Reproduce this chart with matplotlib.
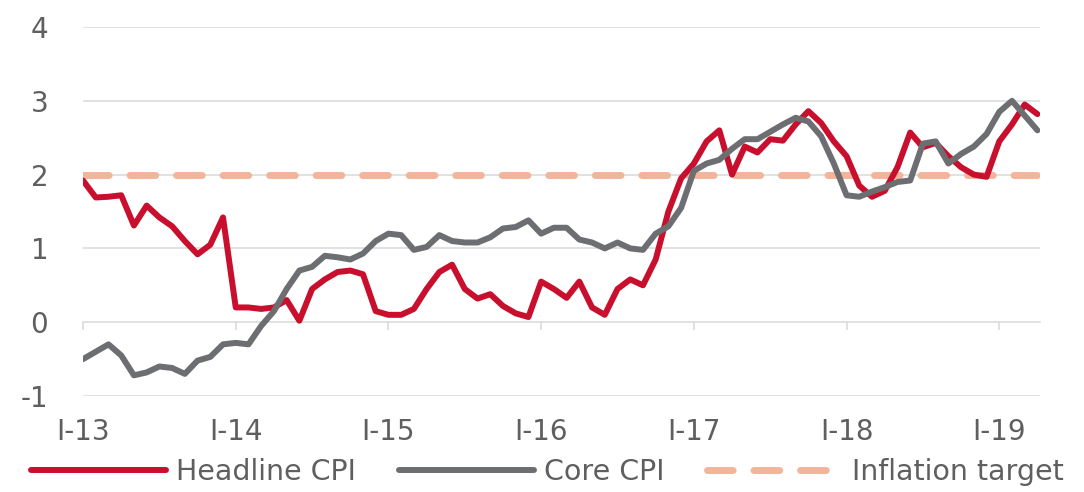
import matplotlib
matplotlib.use("Agg")
from matplotlib import pyplot as plt

# monthly series, January 2013 to April 2019
months = list(range(76))
headline_cpi = [
    1.92, 1.69, 1.70, 1.72, 1.31, 1.58, 1.42, 1.30, 1.10, 0.92, 1.05, 1.42,
    0.20, 0.20, 0.18, 0.20, 0.30, 0.02, 0.45, 0.58, 0.68, 0.70, 0.65, 0.15,
    0.10, 0.10, 0.18, 0.45, 0.68, 0.78, 0.45, 0.32, 0.38, 0.22, 0.12, 0.07,
    0.55, 0.45, 0.33, 0.55, 0.20, 0.10, 0.45, 0.58, 0.50, 0.85, 1.50, 1.95,
    2.15, 2.45, 2.60, 2.00, 2.38, 2.30, 2.48, 2.46, 2.68, 2.86, 2.70, 2.45,
    2.25, 1.85, 1.70, 1.78, 2.10, 2.57, 2.37, 2.43, 2.25, 2.10, 2.00, 1.97,
    2.45, 2.68, 2.95, 2.82,
]
core_cpi = [
    -0.50, -0.40, -0.30, -0.45, -0.72, -0.68, -0.60, -0.62, -0.70, -0.52, -0.47, -0.30,
    -0.28, -0.30, -0.05, 0.15, 0.45, 0.70, 0.75, 0.90, 0.88, 0.85, 0.93, 1.10,
    1.20, 1.18, 0.98, 1.02, 1.18, 1.10, 1.08, 1.08, 1.15, 1.27, 1.29, 1.38,
    1.20, 1.28, 1.28, 1.12, 1.08, 1.00, 1.08, 1.00, 0.98, 1.20, 1.30, 1.55,
    2.05, 2.15, 2.20, 2.35, 2.48, 2.48, 2.58, 2.68, 2.77, 2.72, 2.52, 2.15,
    1.72, 1.70, 1.77, 1.83, 1.90, 1.92, 2.42, 2.45, 2.15, 2.28, 2.38, 2.55,
    2.85, 3.00, 2.80, 2.60,
]
inflation_target = [2.0] * len(months)

year_ticks = [0, 12, 24, 36, 48, 60, 72]
year_labels = ["I-13", "I-14", "I-15", "I-16", "I-17", "I-18", "I-19"]
y_ticks = [-1, 0, 1, 2, 3, 4]

text_color = "#5f5f5f"
grid_color = "#d9d9d9"
plt.rcParams["font.family"] = ["DejaVu Sans"]

fig = plt.figure(figsize=(10.84, 4.92), dpi=100)
ax = fig.add_axes([0.0766, 0.1951, 0.8828, 0.75])

ax.plot(months, inflation_target, color="#f2b49b", lw=5, dashes=(3.7, 3.0),
        dash_capstyle="round", label="Inflation target", zorder=3)
ax.plot(months, headline_cpi, color="#c8102e", lw=4.3, solid_joinstyle="round",
        solid_capstyle="round", label="Headline CPI", zorder=4)
ax.plot(months, core_cpi, color="#6d6e71", lw=4.3, solid_joinstyle="round",
        solid_capstyle="round", label="Core CPI", zorder=5)

ax.set_xlim(0, 75.2)
ax.set_ylim(-1, 4)
ax.set_yticks(y_ticks)
ax.set_yticklabels([str(v) for v in y_ticks])
ax.set_xticks(year_ticks)
ax.set_xticklabels(year_labels)

for v in y_ticks:
    if v != 0:
        ax.axhline(v, color=grid_color, lw=1.1, zorder=1)

for side in ("top", "right", "left"):
    ax.spines[side].set_visible(False)
ax.spines["bottom"].set_position(("data", 0))
ax.spines["bottom"].set_color(grid_color)
ax.spines["bottom"].set_linewidth(1.1)

ax.tick_params(axis="y", length=0, pad=25, labelsize=20, labelcolor=text_color)
ax.tick_params(axis="x", direction="out", length=6, width=1.1, color=grid_color,
               pad=63, labelsize=20, labelcolor=text_color)

handles, labels = ax.get_legend_handles_labels()
order = [1, 2, 0]
fig.legend([handles[i] for i in order], [labels[i] for i in order],
           loc="center", bbox_to_anchor=(0.505, 20 / 492), ncol=3, frameon=False,
           fontsize=20.5, labelcolor=text_color, handlelength=4.75,
           handletextpad=0.35, columnspacing=1.5, borderpad=0, borderaxespad=0)

plt.savefig("out.png", dpi=100)
